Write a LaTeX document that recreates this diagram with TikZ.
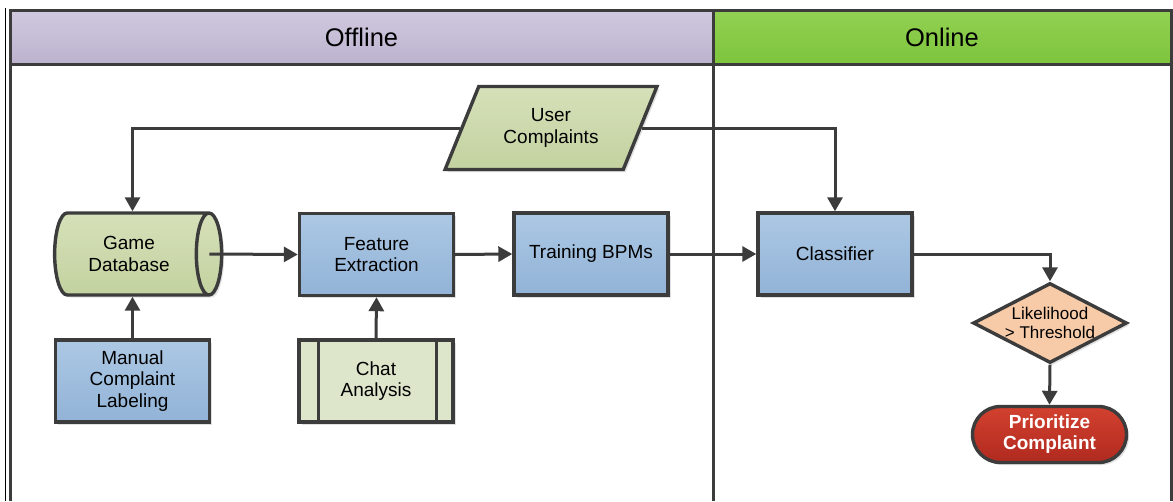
\documentclass[tikz,border=0pt]{standalone}
\usepackage{fontspec}
\setmainfont{Liberation Sans}
\usetikzlibrary{arrows.meta, calc, shapes.geometric, shadows}
\tikzset{>=Triangle}

\definecolor{randgrau}{HTML}{3C3C3C}
\definecolor{lilaOben}{HTML}{D1C9DF}
\definecolor{lilaUnten}{HTML}{BCB2CF}
\definecolor{gruenOben}{HTML}{93D152}
\definecolor{gruenUnten}{HTML}{7DC43C}
\definecolor{blauOben}{HTML}{ACC8E4}
\definecolor{blauUnten}{HTML}{92B3D7}
\definecolor{olivOben}{HTML}{D6E0B9}
\definecolor{olivUnten}{HTML}{C3D2A0}
\definecolor{olivHell}{HTML}{DDE5CA}
\definecolor{pfirsich}{HTML}{F7CBA8}
\definecolor{rotOben}{HTML}{D2412F}
\definecolor{rotUnten}{HTML}{B02A1F}

\begin{document}
\begin{tikzpicture}[x=1pt,y=-1pt]

   %%%%%%%%%%%%%%%%%%%%%%%%%%%%%%%%%%%%%%%%%%%%%%%%%%%%%%%%%%%%%%%%%%%%%%
   % Parameter
   %%%%%%%%%%%%%%%%%%%%%%%%%%%%%%%%%%%%%%%%%%%%%%%%%%%%%%%%%%%%%%%%%%%%%%
   \def\xlinks{10}
   \def\xmitte{713}
   \def\xrechts{1171}
   \def\yoben{10}
   \def\ykopf{64}
   \def\yunten{501}

   \useasboundingbox (0,0) rectangle (1173,501);

   % Stile fuer Bahnen, Kaesten und Pfeile
   \tikzset{
      rahmen/.style={draw=randgrau, line width=3pt},
      kopf/.style={rahmen, minimum height=54pt, inner sep=0pt,
         font=\fontsize{25.5}{30}\selectfont},
      schatten/.style={drop shadow={shadow xshift=2.5pt, shadow yshift=-2.5pt,
         fill=black, opacity=0.12}},
      kasten/.style={draw=randgrau, line width=3.4pt, minimum width=154pt,
         minimum height=82pt, inner sep=2pt, align=center, schatten,
         font=\fontsize{19}{21.5}\selectfont},
      blaukasten/.style={kasten, top color=blauOben, bottom color=blauUnten},
      olivkasten/.style={kasten, top color=olivOben, bottom color=olivUnten},
      pfeil/.style={draw=randgrau, line width=3pt,
         -{Triangle[length=14pt,width=15pt]}}
   }

   %%%%%%%%%%%%%%%%%%%%%%%%%%%%%%%%%%%%%%%%%%%%%%%%%%%%%%%%%%%%%%%%%%%%%%
   % Bahnen
   %%%%%%%%%%%%%%%%%%%%%%%%%%%%%%%%%%%%%%%%%%%%%%%%%%%%%%%%%%%%%%%%%%%%%%
   \draw[black, line width=0.8pt] (5,8) -- (5,\yunten);

   \node[kopf, top color=lilaOben, bottom color=lilaUnten, minimum width=703pt]
      (Offline) at ({(\xlinks+\xmitte)/2},{(\yoben+\ykopf)/2}) {Offline};
   \node[kopf, top color=gruenOben, bottom color=gruenUnten, minimum width=458pt]
      (Online) at ({(\xmitte+\xrechts)/2},{(\yoben+\ykopf)/2}) {Online};

   \draw[rahmen] (\xlinks,\ykopf) -- (\xlinks,\yunten);
   \draw[rahmen] (\xmitte,\ykopf) -- (\xmitte,\yunten);
   \draw[rahmen] (\xrechts,\ykopf) -- (\xrechts,\yunten);

   %%%%%%%%%%%%%%%%%%%%%%%%%%%%%%%%%%%%%%%%%%%%%%%%%%%%%%%%%%%%%%%%%%%%%%
   % Knoten
   %%%%%%%%%%%%%%%%%%%%%%%%%%%%%%%%%%%%%%%%%%%%%%%%%%%%%%%%%%%%%%%%%%%%%%
   \node[olivkasten, trapezium, trapezium left angle=61.5,
      trapezium right angle=118.5, trapezium stretches=true,
      minimum width=212pt, minimum height=83pt] (UserCompl) at (551,128)
      {User\\Complaints};

   \node[olivkasten, cylinder, aspect=0.65, minimum width=82pt,
      minimum height=167pt] (GameDb) at (129,254) {Game\\Database};

   \node[blaukasten] (FeatExt)  at (376.5,254.5) {Feature\\Extraction};
   \node[blaukasten] (TrainBpm) at (591,254) {Training BPMs};
   \node[blaukasten] (Classif)  at (835,254) {Classifier};

   \node[blaukasten] (ManLabel) at (132.5,381) {Manual\\Complaint\\Labeling};
   \node[kasten, fill=olivHell] (ChatAna) at (376,381) {Chat\\Analysis};
   \draw[draw=randgrau, line width=3.4pt]
      ([xshift=21pt]ChatAna.north west) -- ([xshift=21pt]ChatAna.south west)
      ([xshift=-18pt]ChatAna.north east) -- ([xshift=-18pt]ChatAna.south east);

   \node[kasten, diamond, fill=pfirsich, aspect=1.9, inner sep=0pt,
      minimum width=154pt, minimum height=80pt,
      font=\fontsize{17}{19}\selectfont] (Schwelle) at (1050,323)
      {Likelihood\\> Threshold};

   \node[kasten, top color=rotOben, bottom color=rotUnten, text=white,
      rounded corners=28pt, minimum height=56pt,
      font=\fontsize{19}{21}\selectfont\bfseries] (Prio) at (1049.5,434.5)
      {Prioritize\\Complaint};

   %%%%%%%%%%%%%%%%%%%%%%%%%%%%%%%%%%%%%%%%%%%%%%%%%%%%%%%%%%%%%%%%%%%%%%
   % Verbindungen
   %%%%%%%%%%%%%%%%%%%%%%%%%%%%%%%%%%%%%%%%%%%%%%%%%%%%%%%%%%%%%%%%%%%%%%
   \draw[pfeil] (UserCompl.west) -| (GameDb.north -| ManLabel.north);
   \draw[pfeil] (ManLabel.north) -- (ManLabel.north |- GameDb.south);
   \draw[pfeil] ([xshift=-14pt]GameDb.east) -- (FeatExt.west);
   \draw[pfeil] (ChatAna.north) -- (FeatExt.south);
   \draw[pfeil] (FeatExt.east) -- (TrainBpm.west);
   \draw[pfeil] (TrainBpm.east) -- (Classif.west);
   \draw[pfeil] (UserCompl.east) -| (Classif.north);
   \draw[pfeil] (Classif.east) -| (Schwelle.north);
   \draw[pfeil] (Schwelle.south) -- (Prio.north);

\end{tikzpicture}
\end{document}
